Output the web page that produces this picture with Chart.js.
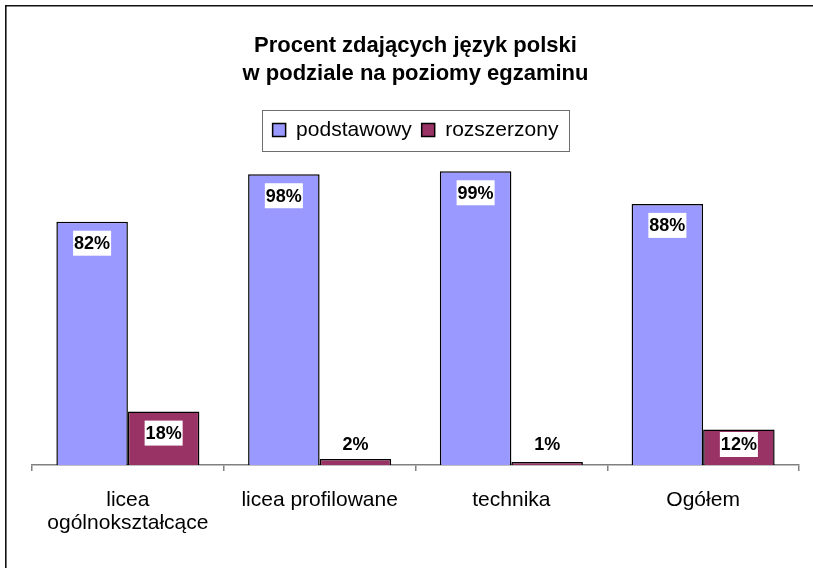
<!DOCTYPE html>
<html>
<head>
<meta charset="utf-8">
<script src="https://cdn.jsdelivr.net/npm/chart.js@4"></script>
<style>
  html, body { margin: 0; padding: 0; background: #fff; }
  canvas { display: block; }
</style>
</head>
<body>
<canvas id="barChart" width="813" height="568"></canvas>
<script>
// dane z wykresu (procenty)
const categories = [['licea', 'ogólnokształcące'], 'licea profilowane', 'technika', 'Ogółem'];
const seriesNames = ['podstawowy', 'rozszerzony'];
const podstawowy = [82, 98, 99, 88];
const rozszerzony = [18, 2, 1, 12];
const titleLines = ['Procent zdających język polski', 'w podziale na poziomy egzaminu'];

(function() {
    const ctx = document.getElementById('barChart');

    Chart.defaults.font.family = "'Liberation Sans', Arial, sans-serif";
    Chart.defaults.color = '#000';

    // ramka wykresu (widoczna tylko gora i lewa strona)
    const frame = {
        id: 'frame',
        afterDraw(chart) {
            const c = chart.ctx;
            c.save();
            c.strokeStyle = '#111';
            c.lineWidth = 1.6;
            c.beginPath();
            c.moveTo(5.8, chart.height);
            c.lineTo(5.8, 5.8);
            c.lineTo(chart.width, 5.8);
            c.stroke();
            c.restore();
        }
    };

    // obramowanie legendy
    const legendBox = {
        id: 'legendBox',
        afterDraw(chart) {
            const lg = chart.legend;
            const hb = lg.legendHitBoxes;
            if (!hb || !hb.length) return;
            const last = hb[hb.length - 1];
            const left = Math.round(hb[0].left - 11) + 0.5;
            const right = Math.round(last.left + last.width + 11) + 0.5;
            const c = chart.ctx;
            c.save();
            c.strokeStyle = '#6e6e6e';
            c.lineWidth = 1;
            c.strokeRect(left, Math.round(lg.top) + 0.5, right - left, Math.round(lg.bottom - lg.top));
            c.restore();
        }
    };

    // etykiety wartosci na bialym tle
    const valueLabels = {
        id: 'valueLabels',
        afterDatasetsDraw(chart) {
            const c = chart.ctx;
            c.save();
            c.font = "bold 18px 'Liberation Sans', Arial, sans-serif";
            c.textAlign = 'center';
            c.textBaseline = 'middle';
            chart.data.datasets.forEach((ds, i) => {
                chart.getDatasetMeta(i).data.forEach((bar, j) => {
                    const txt = ds.data[j] + '%';
                    const w = c.measureText(txt).width + 2;
                    const h = 25;
                    const top = Math.min(bar.y + 9, bar.base - 33);
                    c.fillStyle = '#fff';
                    c.fillRect(bar.x - w / 2, top, w, h);
                    c.fillStyle = '#000';
                    c.fillText(txt, bar.x, top + h / 2 + 1);
                });
            });
            c.restore();
        }
    };

    new Chart(ctx, {
        type: 'bar',
        data: {
            labels: categories,
            datasets: [
                {
                    label: seriesNames[0],
                    data: podstawowy,
                    backgroundColor: '#9999ff',
                    borderColor: '#000',
                    borderWidth: 1.5,
                    categoryPercentage: 0.746,
                    barPercentage: 1.0
                },
                {
                    label: seriesNames[1],
                    data: rozszerzony,
                    backgroundColor: '#993366',
                    borderColor: '#000',
                    borderWidth: 1.5,
                    categoryPercentage: 0.746,
                    barPercentage: 1.0
                }
            ]
        },
        options: {
            responsive: false,
            animation: false,
            layout: {
                padding: { left: 32, right: 14, top: 0, bottom: 15 }
            },
            plugins: {
                title: {
                    display: true,
                    text: titleLines,
                    color: '#000',
                    font: { size: 22, weight: 'bold', lineHeight: '28px' },
                    padding: { top: 31.5, bottom: 22 }
                },
                legend: {
                    position: 'top',
                    labels: {
                        boxWidth: 13,
                        boxHeight: 13,
                        padding: 10,
                        color: '#000',
                        font: { size: 21 }
                    }
                },
                tooltip: { enabled: false }
            },
            scales: {
                y: {
                    display: false,
                    min: 0,
                    max: 106
                },
                x: {
                    offset: true,
                    border: { color: '#808080', width: 1.5 },
                    grid: {
                        offset: true,
                        drawOnChartArea: false,
                        drawTicks: true,
                        tickLength: 6,
                        color: '#808080',
                        lineWidth: 1.5
                    },
                    ticks: {
                        autoSkip: false,
                        maxRotation: 0,
                        padding: 18,
                        color: '#000',
                        font: { size: 21, lineHeight: '23px' }
                    }
                }
            }
        },
        plugins: [valueLabels, legendBox, frame]
    });
})();
</script>
</body>
</html>
